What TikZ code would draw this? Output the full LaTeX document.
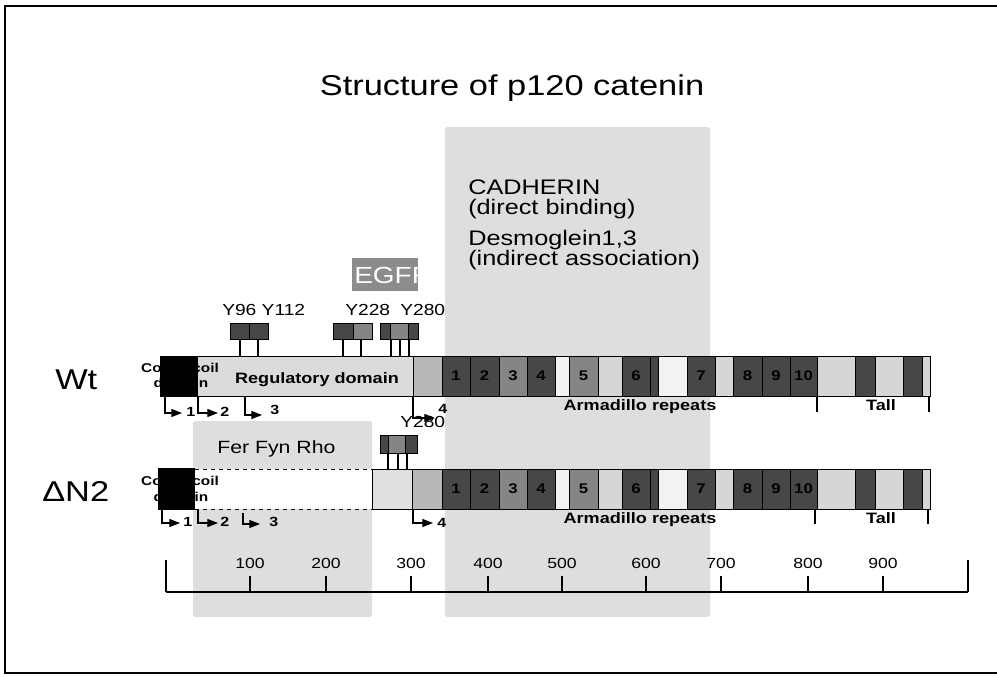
\documentclass[tikz,border=0pt]{standalone}
\usepackage{fontspec}
\setmainfont{Liberation Sans}[FakeStretch=1.2]
\usetikzlibrary{arrows.meta, positioning}
\tikzset{
  bg/.style={fill=black!13, rounded corners=2pt},
  seg/.style={draw, line width=0.6pt},
  dk/.style={seg, fill=black!72},
  md/.style={seg, fill=black!48},
  lt/.style={seg, fill=black!16},
  wh/.style={seg, fill=black!5},
  stem/.style={line width=1.8pt},
  sig/.style={-{Triangle[length=8pt,width=6pt]}, line width=0.9pt},
  txt/.style={inner sep=0pt, anchor=base west},
  ttl/.style={txt, font=\fontsize{21.5}{26}\selectfont},
  cad/.style={txt, font=\fontsize{15.8}{19}\selectfont},
  ylbl/.style={txt, font=\fontsize{12}{14}\selectfont},
  blbl/.style={txt, anchor=base, font=\bfseries\fontsize{11.3}{13}\selectfont},
  ccl/.style={txt, anchor=base, font=\bfseries\fontsize{9.6}{11}\selectfont},
  num/.style={txt, font=\bfseries\fontsize{10}{12}\selectfont},
  rnum/.style={inner sep=0pt, font=\bfseries\fontsize{10.5}{12}\selectfont},
  sclbl/.style={txt, anchor=base, font=\fontsize{11}{13}\selectfont},
  tick/.style={line width=0.9pt}
}
% armadillo repeats and tail: #1 = top of bar, #2 = name prefix
\newcommand{\armrepeats}[2]{%
  \foreach \xa/\xb/\fc/\rn in {442/470/dk/1, 470/499/dk/2, 499/527/md/3,
      527/555/dk/4, 555/569/wh/{}, 569/598/md/5, 598/622/lt/{}, 622/650/dk/6,
      650/658/dk/{}, 658/687/wh/{}, 687/715/dk/7, 715/733/lt/{}, 733/762/dk/8,
      762/790/dk/9, 790/817/dk/10, 817/855/lt/{}, 855/875/dk/{}, 875/903/lt/{},
      903/922/dk/{}, 922/930/lt/{}}{%
    \draw[\fc] (\xa,#1) rectangle (\xb,#1+40);
    \node[rnum] (#2\xa) at ({(\xa+\xb)/2},#1+20) {\rn};
  }}

\begin{document}
\begin{tikzpicture}[x=0.75pt, y=-0.75pt]
  \useasboundingbox (0,0) rectangle (997,676);
  \draw[line width=1.5pt] (1000,6) -- (5,6) -- (5,673) -- (1000,673);

  % binding regions
  \fill[bg] (445,127) rectangle (710,617);
  \fill[bg] (193,421) rectangle (372,617);

  \node[ttl, anchor=base] (title) at (512,95) {Structure of p120 catenin};

  \node[cad] (cad1) at (468,194) {CADHERIN};
  \node[cad] (cad2) at (468,214) {(direct binding)};
  \node[cad] (dsg1) at (468,245) {Desmoglein1,3};
  \node[cad] (dsg2) at (468,265) {(indirect association)};

  \fill[black!45] (352,258) rectangle (418,291);
  \node[txt, text=white, font=\fontsize{17.5}{21}\selectfont] (egfr) at (354,283) {EGFR};
  \fill[white] (418,256) rectangle (444,293);

  \node[ttl] (wt)  at (55,389) {Wt};
  \node[ttl] (dn2) at (42,501) {ΔN2};

  % phosphorylation sites
  \node[ylbl] (ly96)   at (222,315) {Y96 Y112};
  \node[ylbl] (ly228)  at (345,315) {Y228};
  \node[ylbl] (ly280)  at (400,315) {Y280};
  \node[ylbl] (ly280b) at (400,427) {Y280};

  \draw[dk] (230,323) rectangle (249,339);
  \draw[dk] (249,323) rectangle (268,339);
  \draw[dk] (333,323) rectangle (353,339);
  \draw[md] (353,323) rectangle (372,339);
  \draw[dk] (380,323) rectangle (390,339);
  \draw[md] (390,323) rectangle (408,339);
  \draw[dk] (408,323) rectangle (418,339);
  \foreach \x in {240,258,343,361,391,400,409}
    \draw[stem] (\x,339) -- (\x,356);

  \draw[dk] (380,435) rectangle (388,453);
  \draw[md] (388,435) rectangle (405,453);
  \draw[dk] (405,435) rectangle (417,453);
  \foreach \x in {388,398,407}
    \draw[stem] (\x,453) -- (\x,469);

  % Wt
  \draw[seg, fill=black!14] (160,356) rectangle (413,396);
  \draw[seg, fill=black!28] (413,356) rectangle (442,396);
  \armrepeats{356}{w}
  \node[blbl] (reg) at (317,383) {Regulatory domain};
  \node[ccl] (ccw1) at (180,372) {Coiled coil};
  \node[ccl] (ccw2) at (181,387) {domain};
  \fill (160,356) rectangle (198,397);

  \node[blbl] (armw)  at (640,410) {Armadillo repeats};
  \node[blbl] (tailw) at (881,410) {Tall};
  \draw[tick] (817,396) -- (817,412);
  \draw[tick] (929,396) -- (929,412);

  % deletion mutant
  \fill[white] (195,469) rectangle (372,509);
  \draw[dashed, line width=0.6pt] (195,469) -- (372,469) (195,509) -- (372,509);
  \draw[seg, fill=black!12] (372,469) rectangle (412,509);
  \draw[seg, fill=black!28] (412,469) rectangle (442,509);
  \armrepeats{469}{d}
  \node[ccl] (ccd1) at (180,485) {Coiled coil};
  \node[ccl] (ccd2) at (181,501) {domain};
  \fill (158,468) rectangle (195,510);
  \node[ylbl, font=\fontsize{13.3}{16}\selectfont] (ffr) at (217,453) {Fer Fyn Rho};

  \node[blbl] (armd)  at (640,523) {Armadillo repeats};
  \node[blbl] (taild) at (881,523) {Tall};
  \draw[tick] (815,509) -- (815,524);
  \draw[tick] (928,509) -- (928,524);

  % start codons
  \foreach \n/\xs/\ys/\xe/\ye/\xn/\yn/\m in {
      1/165/396/182/413/186/416/w, 2/198/396/218/413/220/416/w,
      3/245/396/262/415/270/414/w, 4/413/396/435/418/438/413/w,
      1/162/510/180/523/183/526/d, 2/198/510/218/523/220/526/d,
      3/243/513/260/524/269/526/d, 4/413/510/433/523/437/527/d}{
    \coordinate (\m s\n) at (\xs,\ys);
    \coordinate (\m e\n) at (\xe,\ye);
    \draw[sig] (\m s\n) |- (\m e\n);
    \node[num] (\m n\n) at (\xn,\yn) {\n};
  }

  % scale
  \draw[tick] (166,592) -- (968,592);
  \draw[tick] (166,560) -- (166,592);
  \draw[tick] (968,560) -- (968,592);
  \foreach \x/\v in {250/100, 326/200, 411/300, 488/400, 562/500,
                     646/600, 721/700, 808/800, 883/900}{
    \draw[tick] (\x,576) -- (\x,592);
    \node[sclbl] (s\v) at (\x,568) {\v};
  }
\end{tikzpicture}
\end{document}
